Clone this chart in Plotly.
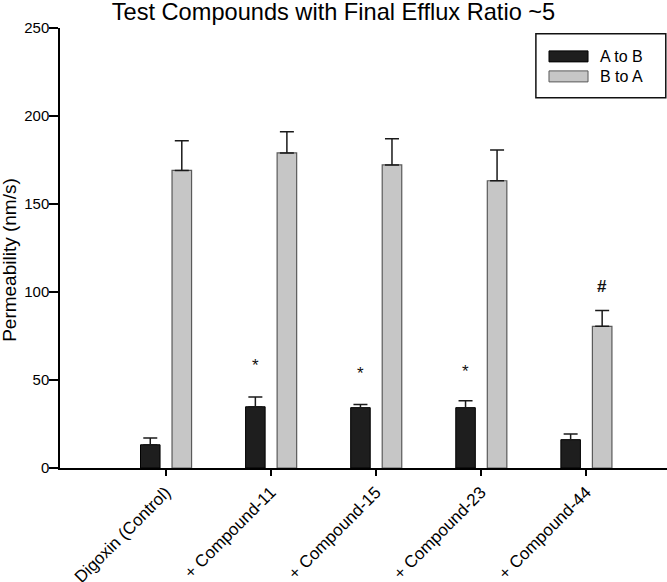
import plotly.graph_objects as go

# ---- data ----
categories = ["Digoxin (Control)", "+ Compound-11", "+ Compound-15", "+ Compound-23", "+ Compound-44"]
a_to_b = [13.2, 34.8, 34.3, 34.3, 16.1]
a_to_b_err = [3.8, 5.5, 1.8, 3.9, 3.2]
b_to_a = [169.1, 179.0, 172.2, 163.2, 80.5]
b_to_a_err = [16.9, 12.0, 14.9, 17.5, 9.0]
# (category index, series, mark text, y position of the mark)
marks = [(1, "a", "*", 61), (2, "a", "*", 56.5), (3, "a", "*", 57.5), (4, "b", "#", 103)]
ytick_vals = [0, 50, 100, 150, 200, 250]

FONT = "Liberation Sans, Arial, sans-serif"
x = list(range(len(categories)))
BW = 0.186
OFF_A = -0.24
OFF_B = 0.06

fig = go.Figure()
fig.add_trace(go.Bar(
    name="A to B", x=x, y=a_to_b, width=BW, offset=OFF_A,
    marker=dict(color="#1e1e1e", line=dict(color="#000000", width=1)),
    error_y=dict(type="data", array=a_to_b_err, arrayminus=[0] * len(x), symmetric=False,
                 color="#1a1a1a", thickness=1.5, width=7),
    showlegend=False,
))
fig.add_trace(go.Bar(
    name="B to A", x=x, y=b_to_a, width=BW, offset=OFF_B,
    marker=dict(color="#c6c6c6", line=dict(color="#5a5a5a", width=1.2)),
    error_y=dict(type="data", array=b_to_a_err, arrayminus=[0] * len(x), symmetric=False,
                 color="#1a1a1a", thickness=1.5, width=7),
    showlegend=False,
))

# significance marks
for idx, series, txt, yv in marks:
    xc = idx + (OFF_A + BW / 2 if series == "a" else OFF_B + BW / 2)
    if txt == "*":
        fig.add_annotation(x=xc, y=yv, text="*", showarrow=False, xanchor="center",
                           yanchor="middle", yshift=-5,
                           font=dict(family=FONT, size=17, color="#111"))
    else:
        fig.add_annotation(x=xc, y=yv, text="<b>#</b>", showarrow=False, xanchor="center",
                           yanchor="middle", font=dict(family=FONT, size=17, color="#111"))

# manual legend (wide swatches like the original)
fig.add_shape(type="rect", xref="paper", yref="paper", x0=0.784, x1=0.998, y0=0.8416, y1=0.987,
              line=dict(color="#111", width=1.5), fillcolor="white")
fig.add_shape(type="rect", xref="paper", yref="paper", x0=0.8056, x1=0.8699, y0=0.923, y1=0.948,
              line=dict(color="#000", width=1), fillcolor="#1e1e1e")
fig.add_shape(type="rect", xref="paper", yref="paper", x0=0.8056, x1=0.8699, y0=0.8775, y1=0.9025,
              line=dict(color="#5a5a5a", width=1), fillcolor="#c6c6c6")
fig.add_annotation(xref="paper", yref="paper", x=0.8863, y=0.9355, text="A to B", showarrow=False,
                   xanchor="left", yanchor="middle", font=dict(family=FONT, size=16, color="#000"))
fig.add_annotation(xref="paper", yref="paper", x=0.8863, y=0.890, text="B to A", showarrow=False,
                   xanchor="left", yanchor="middle", font=dict(family=FONT, size=16, color="#000"))

# y-axis title as annotation (positioned like the original)
fig.add_annotation(xref="paper", yref="paper", x=-0.0824, y=0.473, text="Permeability (nm/s)",
                   textangle=-90, showarrow=False, xanchor="center", yanchor="middle",
                   font=dict(family=FONT, size=19, color="#000"))

fig.update_layout(
    width=667, height=582,
    margin=dict(l=60, r=0, t=28.3, b=113.7, pad=0, autoexpand=False),
    paper_bgcolor="white", plot_bgcolor="white",
    title=dict(text="Test Compounds with Final Efflux Ratio ~5", x=0.5, xref="container",
               xanchor="center", y=0.9948, yref="container", yanchor="top",
               pad=dict(t=0, b=0, l=0, r=0),
               font=dict(family=FONT, size=23.6, color="#000")),
    font=dict(family=FONT, color="#000"),
    barmode="overlay",
    showlegend=False,
)
fig.update_xaxes(
    range=[-1.006, 4.77], tickmode="array", tickvals=x, ticktext=categories, tickangle=-45,
    showline=True, linecolor="#000", linewidth=1.5, ticks="outside", ticklen=6, tickwidth=1.5,
    tickcolor="#000", showgrid=False, zeroline=False, automargin=False,
    tickfont=dict(family=FONT, size=17, color="#000"),
)
fig.update_yaxes(
    range=[0, 250], tickmode="array", tickvals=ytick_vals, showline=True, linecolor="#000",
    linewidth=1.5, ticks="outside", ticklen=9, tickwidth=1.5, tickcolor="#000", showgrid=False,
    zeroline=False, automargin=False, ticklabelstandoff=-3,
    tickfont=dict(family=FONT, size=15, color="#000"),
)

fig.write_html("out.html", config={"displayModeBar": False},
               post_script="document.body.style.margin='0px';document.body.style.padding='0px';")
